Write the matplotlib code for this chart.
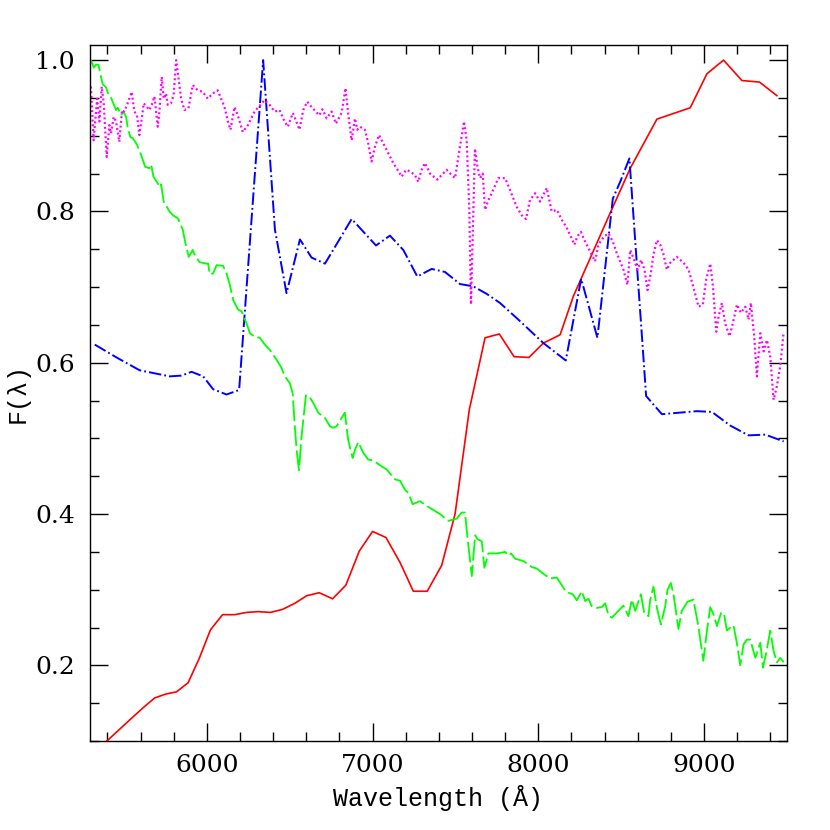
import numpy as np
import matplotlib
matplotlib.use('Agg')
import matplotlib.pyplot as plt
import matplotlib.ticker as ticker

#---------------
# DATA
#---------------

# red spectrum (solid)
wave_red = [5300, 5397, 5555, 5626, 5686, 5751, 5817, 5887, 5954, 6022,
            6095, 6169, 6240, 6310, 6385, 6457, 6531, 6602, 6678, 6759,
            6839, 6920, 7000, 7081, 7166, 7246, 7330, 7417, 7498, 7584,
            7679, 7765, 7854, 7944, 8031, 8132, 8212, 8424, 8555, 8716,
            8917, 9018, 9118, 9229, 9335, 9440]
flux_red = [0.080, 0.100, 0.132, 0.146, 0.157, 0.162, 0.165, 0.177, 0.209, 0.247,
            0.267, 0.267, 0.270, 0.271, 0.270, 0.274, 0.282, 0.292, 0.296, 0.288,
            0.306, 0.351, 0.377, 0.369, 0.336, 0.298, 0.298, 0.332, 0.400, 0.538,
            0.633, 0.638, 0.608, 0.607, 0.626, 0.637, 0.688, 0.793, 0.857, 0.922,
            0.937, 0.982, 1.000, 0.973, 0.971, 0.953]

# blue spectrum (dash-dot)
wave_blue = [5324, 5455, 5595, 5777, 5847, 5908, 5978, 6038, 6119, 6195,
             6340, 6411, 6481, 6562, 6632, 6713, 6874, 7021, 7105, 7186,
             7270, 7357, 7437, 7528, 7608, 7689, 7769, 7880, 8031, 8166,
             8259, 8357, 8450, 8494, 8550, 8651, 8746, 8957, 9048, 9158,
             9269, 9370, 9481]
flux_blue = [0.624, 0.607, 0.590, 0.582, 0.583, 0.588, 0.582, 0.565, 0.558, 0.564,
             1.000, 0.776, 0.692, 0.763, 0.739, 0.731, 0.790, 0.755, 0.768, 0.749,
             0.714, 0.724, 0.720, 0.704, 0.701, 0.691, 0.679, 0.657, 0.626, 0.603,
             0.711, 0.633, 0.817, 0.839, 0.870, 0.556, 0.532, 0.536, 0.535, 0.517,
             0.504, 0.505, 0.496]

# green spectrum (long dashes)
wave_green = [5301, 5318, 5332, 5346, 5358, 5372, 5392, 5407, 5423, 5432,
              5453, 5463, 5483, 5497, 5513, 5523, 5539, 5553, 5579, 5603,
              5628, 5654, 5664, 5678, 5704, 5720, 5724, 5740, 5775, 5795,
              5825, 5855, 5869, 5891, 5915, 5926, 5956, 5996, 6008, 6018,
              6038, 6059, 6098, 6119, 6139, 6159, 6189, 6210, 6240, 6260,
              6290, 6320, 6350, 6380, 6421, 6451, 6471, 6501, 6518, 6531,
              6542, 6556, 6572, 6598, 6622, 6642, 6672, 6713, 6743, 6763,
              6783, 6833, 6853, 6880, 6894, 6914, 6944, 6974, 7004, 7055,
              7085, 7135, 7166, 7196, 7216, 7242, 7286, 7347, 7407, 7457,
              7508, 7538, 7558, 7572, 7599, 7619, 7633, 7659, 7675, 7699,
              7750, 7780, 7800, 7820, 7836, 7860, 7910, 7961, 7991, 8031,
              8071, 8112, 8142, 8168, 8208, 8233, 8263, 8283, 8303, 8323,
              8353, 8383, 8404, 8424, 8444, 8474, 8514, 8544, 8565, 8585,
              8619, 8639, 8665, 8675, 8695, 8716, 8740, 8766, 8780, 8800,
              8816, 8836, 8846, 8866, 8900, 8936, 8966, 8996, 9018, 9038,
              9058, 9078, 9104, 9122, 9138, 9178, 9198, 9219, 9239, 9259,
              9279, 9310, 9340, 9356, 9376, 9400, 9420, 9440, 9460, 9481]
flux_green = [1.000, 0.990, 0.994, 0.994, 0.981, 0.968, 0.964, 0.954, 0.950, 0.945,
              0.934, 0.937, 0.927, 0.932, 0.925, 0.910, 0.898, 0.897, 0.888, 0.875,
              0.859, 0.857, 0.862, 0.846, 0.837, 0.832, 0.836, 0.813, 0.800, 0.795,
              0.791, 0.776, 0.760, 0.740, 0.749, 0.743, 0.733, 0.731, 0.731, 0.717,
              0.718, 0.729, 0.728, 0.718, 0.703, 0.683, 0.670, 0.668, 0.652, 0.639,
              0.634, 0.633, 0.624, 0.617, 0.604, 0.593, 0.582, 0.573, 0.560, 0.516,
              0.485, 0.458, 0.503, 0.557, 0.554, 0.547, 0.534, 0.527, 0.516, 0.514,
              0.516, 0.534, 0.498, 0.474, 0.485, 0.495, 0.481, 0.472, 0.471, 0.463,
              0.459, 0.446, 0.444, 0.432, 0.428, 0.413, 0.417, 0.408, 0.400, 0.391,
              0.394, 0.402, 0.402, 0.371, 0.318, 0.372, 0.367, 0.364, 0.329, 0.348,
              0.348, 0.349, 0.350, 0.345, 0.348, 0.341, 0.338, 0.330, 0.328, 0.321,
              0.315, 0.316, 0.306, 0.297, 0.294, 0.286, 0.298, 0.285, 0.288, 0.278,
              0.276, 0.277, 0.282, 0.266, 0.263, 0.270, 0.279, 0.265, 0.287, 0.272,
              0.294, 0.270, 0.265, 0.286, 0.304, 0.276, 0.254, 0.278, 0.300, 0.309,
              0.294, 0.263, 0.248, 0.272, 0.284, 0.287, 0.252, 0.206, 0.246, 0.277,
              0.267, 0.252, 0.270, 0.267, 0.246, 0.253, 0.230, 0.200, 0.228, 0.234,
              0.234, 0.210, 0.230, 0.197, 0.217, 0.246, 0.219, 0.204, 0.210, 0.204]

# magenta spectrum (dotted)
wave_mag = [5301, 5317, 5338, 5352, 5366, 5378, 5396, 5412, 5422, 5438,
            5452, 5472, 5488, 5502, 5519, 5547, 5563, 5579, 5593, 5609,
            5619, 5639, 5653, 5668, 5684, 5704, 5714, 5728, 5740, 5754,
            5764, 5784, 5800, 5815, 5829, 5845, 5865, 5889, 5915, 5946,
            5976, 6006, 6036, 6066, 6086, 6107, 6127, 6143, 6167, 6187,
            6217, 6248, 6288, 6324, 6348, 6378, 6409, 6439, 6469, 6489,
            6519, 6549, 6559, 6582, 6606, 6632, 6658, 6678, 6698, 6723,
            6753, 6779, 6813, 6837, 6854, 6874, 6894, 6908, 6924, 6954,
            6974, 6994, 7015, 7039, 7065, 7095, 7125, 7151, 7176, 7202,
            7226, 7256, 7276, 7296, 7316, 7347, 7391, 7417, 7447, 7478,
            7498, 7524, 7552, 7568, 7584, 7594, 7618, 7633, 7649, 7665,
            7679, 7699, 7719, 7759, 7800, 7830, 7870, 7900, 7926, 7950,
            7981, 8011, 8051, 8081, 8112, 8142, 8168, 8192, 8218, 8236,
            8257, 8283, 8313, 8343, 8363, 8397, 8424, 8450, 8470, 8490,
            8514, 8538, 8555, 8575, 8599, 8621, 8641, 8659, 8679, 8695,
            8716, 8736, 8756, 8776, 8796, 8836, 8877, 8907, 8937, 8967,
            8993, 9013, 9038, 9054, 9074, 9088, 9108, 9128, 9154, 9174,
            9199, 9223, 9249, 9269, 9283, 9303, 9319, 9340, 9360, 9380,
            9400, 9420, 9440, 9460, 9480]
flux_mag = [0.965, 0.894, 0.949, 0.919, 0.965, 0.943, 0.872, 0.914, 0.903, 0.925,
            0.919, 0.892, 0.934, 0.932, 0.941, 0.958, 0.932, 0.927, 0.901, 0.925,
            0.943, 0.938, 0.934, 0.941, 0.952, 0.912, 0.932, 0.978, 0.949, 0.956,
            0.941, 0.943, 0.954, 1.000, 0.976, 0.949, 0.934, 0.936, 0.967, 0.960,
            0.958, 0.949, 0.956, 0.960, 0.949, 0.938, 0.919, 0.908, 0.938, 0.927,
            0.905, 0.914, 0.932, 0.941, 0.947, 0.941, 0.932, 0.934, 0.919, 0.912,
            0.930, 0.914, 0.908, 0.934, 0.945, 0.938, 0.932, 0.927, 0.935, 0.923,
            0.932, 0.916, 0.930, 0.963, 0.927, 0.894, 0.923, 0.908, 0.912, 0.908,
            0.890, 0.866, 0.886, 0.901, 0.890, 0.877, 0.864, 0.855, 0.846, 0.855,
            0.853, 0.848, 0.839, 0.855, 0.864, 0.850, 0.842, 0.848, 0.855, 0.848,
            0.844, 0.881, 0.919, 0.894, 0.802, 0.677, 0.883, 0.859, 0.844, 0.850,
            0.802, 0.815, 0.824, 0.844, 0.844, 0.828, 0.806, 0.795, 0.790, 0.815,
            0.824, 0.813, 0.831, 0.800, 0.802, 0.789, 0.780, 0.769, 0.756, 0.767,
            0.773, 0.760, 0.747, 0.734, 0.756, 0.767, 0.771, 0.760, 0.747, 0.736,
            0.723, 0.703, 0.749, 0.738, 0.723, 0.736, 0.723, 0.696, 0.718, 0.743,
            0.762, 0.756, 0.743, 0.723, 0.732, 0.740, 0.732, 0.723, 0.699, 0.674,
            0.677, 0.710, 0.731, 0.701, 0.641, 0.661, 0.679, 0.652, 0.635, 0.652,
            0.677, 0.666, 0.674, 0.657, 0.679, 0.635, 0.582, 0.639, 0.615, 0.630,
            0.608, 0.551, 0.569, 0.595, 0.639]

#---------------
# PLOT
#---------------

plt.rcParams['lines.scale_dashes'] = False
tickfont = {'family': ['DejaVu Serif'], 'size': 18}
labfont = ['Liberation Mono', 'DejaVu Sans Mono']

fig = plt.figure(figsize=(8.3, 8.3), dpi=100)
ax = fig.add_axes([0.1084, 0.1072, 0.8396, 0.8386])

ax.plot(wave_red, flux_red, color='#ff0000', lw=1.2, ls='-')
ax.plot(wave_blue, flux_blue, color='#0000ff', lw=1.4, dashes=(9, 2.2, 1.3, 2.2))
ax.plot(wave_green, flux_green, color='#00ff00', lw=1.3, dashes=(15, 3))
ax.plot(wave_mag, flux_mag, color='#ff00ff', lw=1.6, dashes=(1.4, 2.0))

ax.set_xlim(5295, 9500)
ax.set_ylim(0.1, 1.02)

# tick locations, inward ticks on all four sides
ax.xaxis.set_major_locator(ticker.MultipleLocator(1000))
ax.xaxis.set_minor_locator(ticker.MultipleLocator(200))
ax.yaxis.set_major_locator(ticker.MultipleLocator(0.2))
ax.yaxis.set_minor_locator(ticker.MultipleLocator(0.05))
ax.yaxis.set_major_formatter(ticker.FormatStrFormatter('%.1f'))
ax.tick_params(which='both', direction='in', top=True, right=True, width=1.0)
ax.tick_params(which='major', length=13)
ax.tick_params(which='minor', length=6.5)
ax.tick_params(axis='x', which='major', pad=9)
ax.tick_params(axis='y', which='major', pad=11)
for s in ax.spines.values():
    s.set_linewidth(1.0)

for lab in ax.get_xticklabels() + ax.get_yticklabels():
    lab.set_fontfamily(tickfont['family'])
    lab.set_fontsize(tickfont['size'])

ax.set_xlabel('Wavelength (Å)', family=labfont, fontsize=18, labelpad=6)
ax.set_ylabel('F(λ)', family=labfont, fontsize=18, labelpad=4)

plt.savefig('out.png', dpi=100)
